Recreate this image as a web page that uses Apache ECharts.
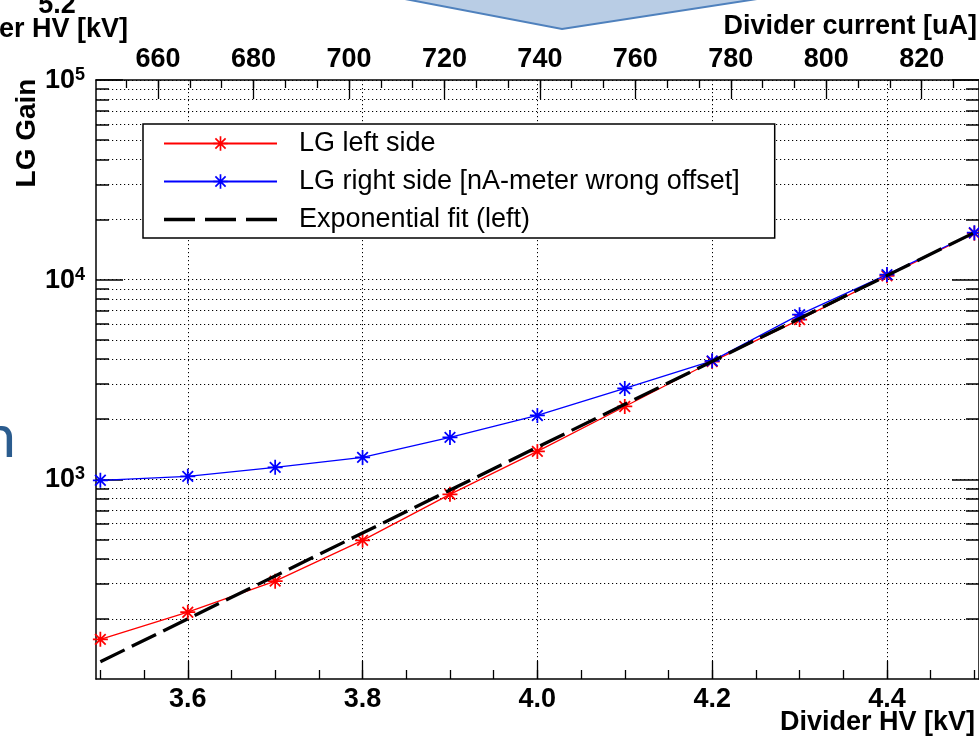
<!DOCTYPE html>
<html>
<head>
<meta charset="utf-8">
<script src="https://cdn.jsdelivr.net/npm/echarts@6/dist/echarts.min.js"></script>
<style>
  html, body { margin: 0; padding: 0; background: #ffffff; overflow: hidden; }
  #chart { width: 979px; height: 740px; }
</style>
</head>
<body>
<div id="chart"></div>
<script>
// Divider high voltage [kV] of each measurement
const hv = [3.5, 3.6, 3.7, 3.8, 3.9, 4.0, 4.1, 4.2, 4.3, 4.4, 4.5];
// LG gain, left side
const gainLeft = [158, 216, 309, 495, 841, 1380, 2317, 3890, 6310, 10450, 17100];
// LG gain, right side (nA-meter with wrong offset)
const gainRight = [989, 1035, 1148, 1288, 1622, 2089, 2851, 3920, 6680, 10600, 17180];
// Exponential fit of the left side: end points of the fitted curve
const fitHv = [3.5, 4.5];
const fitGain = [122, 17200];

// Axis ticks
const hvTicks = [3.6, 3.8, 4.0, 4.2, 4.4];
const currentTicks = [660, 680, 700, 720, 740, 760, 780, 800, 820];
const gainTicks = [1000, 10000, 100000];

// Axis ranges
const hvRange = [3.495, 4.5053];
const currentRange = [647.0, 832.0];
const gainRange = [100, 100000];

// Minor tick positions
const hvMinor = [];
for (let i = 0; i <= 20; i++) hvMinor.push(+(3.5 + i * 0.05).toFixed(2));
const currentMinor = [];
for (let i = -2; i <= 26; i++) currentMinor.push(660 + i * 20 / 3);
const gainMinor = [];
[100, 1000, 10000].forEach(d => { for (let k = 2; k <= 9; k++) gainMinor.push(k * d); });

const FONT = 'Liberation Sans';
const AXIS_W = 1.5;
const gridDot = { color: '#000', width: 1, type: [1.2, 2.8] };

// ROOT-style asterisk marker (+ and x overlaid)
const star = 'path://M10.6,0H13.4V24H10.6Z M0,10.6H24V13.4H0Z ' +
  'M4.5,2.52L21.48,19.5L19.5,21.48L2.52,4.5Z M2.52,19.5L19.5,2.52L21.48,4.5L4.5,21.48Z';
// Long-dash legend icon for the fit
const dashIcon = 'path://M0,0H31V3.3H0Z M41,0H72V3.3H41Z M82,0H113V3.3H82Z';

const pairs = (xs, ys) => xs.map((x, i) => [x, ys[i]]);

const boldLabel = { fontFamily: FONT, fontWeight: 'bold', fontSize: 27, color: '#000' };
const boldText = 'bold 27px "Liberation Sans"';

const option = {
  backgroundColor: '#ffffff',
  animation: false,
  grid: { left: 96, right: -1, top: 80, bottom: 61, containLabel: false },
  legend: {
    orient: 'vertical',
    left: 143,
    top: 124,
    padding: [6, 35, 5, 20],
    itemGap: 11,
    itemWidth: 113,
    itemHeight: 18,
    borderColor: '#000',
    borderWidth: 1.5,
    borderRadius: 0,
    backgroundColor: '#ffffff',
    textStyle: { fontFamily: FONT, fontSize: 27, color: '#000', padding: [0, 0, 0, 17] },
    data: [
      { name: 'LG left side' },
      { name: 'LG right side [nA-meter wrong offset]' },
      { name: 'Exponential fit (left)', icon: dashIcon }
    ]
  },
  xAxis: [
    {
      type: 'value', position: 'bottom', min: hvRange[0], max: hvRange[1],
      axisLine: { show: true, onZero: false, lineStyle: { color: '#000', width: AXIS_W } },
      axisTick: { show: true, inside: true, length: 18, customValues: hvTicks, lineStyle: { color: '#000', width: 1.3 } },
      axisLabel: Object.assign({ customValues: hvTicks, margin: 7, formatter: v => v.toFixed(1) }, boldLabel),
      splitLine: { show: true, lineStyle: gridDot }
    },
    {
      type: 'value', position: 'bottom', min: hvRange[0], max: hvRange[1],
      axisLine: { show: false },
      axisTick: { show: true, inside: true, length: 9, customValues: hvMinor, lineStyle: { color: '#000', width: 1.3 } },
      axisLabel: { show: false },
      splitLine: { show: false }
    },
    {
      type: 'value', position: 'top', min: currentRange[0], max: currentRange[1],
      axisLine: { show: true, onZero: false, lineStyle: { color: '#000', width: AXIS_W } },
      axisTick: { show: true, inside: true, length: 19, customValues: currentTicks, lineStyle: { color: '#000', width: 1.3 } },
      axisLabel: Object.assign({ customValues: currentTicks, margin: 7, formatter: v => String(Math.round(v)) }, boldLabel),
      splitLine: { show: false }
    },
    {
      type: 'value', position: 'top', min: currentRange[0], max: currentRange[1],
      axisLine: { show: false },
      axisTick: { show: true, inside: true, length: 8, customValues: currentMinor, lineStyle: { color: '#000', width: 1.3 } },
      axisLabel: { show: false },
      splitLine: { show: false }
    }
  ],
  yAxis: [
    {
      type: 'log', logBase: 10, position: 'left', min: gainRange[0], max: gainRange[1],
      axisLine: { show: true, onZero: false, lineStyle: { color: '#000', width: AXIS_W } },
      axisTick: { show: true, inside: true, length: 27, customValues: gainTicks, lineStyle: { color: '#000', width: 1.5 } },
      axisLabel: {
        customValues: gainTicks, margin: 11,
        formatter: v => '{b|10}{s|' + Math.round(Math.log10(v)) + '}',
        rich: {
          b: { fontFamily: FONT, fontWeight: 'bold', fontSize: 27, lineHeight: 28, color: '#000', verticalAlign: 'bottom' },
          s: { fontFamily: FONT, fontWeight: 'bold', fontSize: 18, lineHeight: 18, color: '#000', verticalAlign: 'top' }
        }
      },
      splitLine: { show: true, lineStyle: gridDot }
    },
    {
      type: 'log', logBase: 10, position: 'left', min: gainRange[0], max: gainRange[1],
      axisLine: { show: false },
      axisTick: { show: true, inside: true, length: 13, customValues: gainMinor, lineStyle: { color: '#000', width: 1.5 } },
      axisLabel: { show: false },
      splitLine: { show: true, lineStyle: gridDot }
    },
    {
      type: 'log', logBase: 10, position: 'right', min: gainRange[0], max: gainRange[1],
      axisLine: { show: true, onZero: false, lineStyle: { color: '#000', width: AXIS_W } },
      axisTick: { show: true, inside: true, length: 27, customValues: gainTicks, lineStyle: { color: '#000', width: 1.5 } },
      axisLabel: { show: false },
      splitLine: { show: false }
    },
    {
      type: 'log', logBase: 10, position: 'right', min: gainRange[0], max: gainRange[1],
      axisLine: { show: false },
      axisTick: { show: true, inside: true, length: 13, customValues: gainMinor, lineStyle: { color: '#000', width: 1.5 } },
      axisLabel: { show: false },
      splitLine: { show: false }
    }
  ],
  series: [
    {
      name: 'LG left side', type: 'line', xAxisIndex: 0, yAxisIndex: 0,
      data: pairs(hv, gainLeft),
      symbol: star, symbolSize: 15, symbolKeepAspect: true,
      lineStyle: { color: '#ff0000', width: 1.3 },
      itemStyle: { color: '#ff0000' }, z: 3
    },
    {
      name: 'LG right side [nA-meter wrong offset]', type: 'line', xAxisIndex: 0, yAxisIndex: 0,
      data: pairs(hv, gainRight),
      symbol: star, symbolSize: 15, symbolKeepAspect: true,
      lineStyle: { color: '#0000ff', width: 1.3 },
      itemStyle: { color: '#0000ff' }, z: 4
    },
    {
      name: 'Exponential fit (left)', type: 'line', xAxisIndex: 0, yAxisIndex: 0,
      data: pairs(fitHv, fitGain),
      symbol: 'none',
      lineStyle: { color: '#000000', width: 3.3, type: [27, 8] },
      itemStyle: { color: '#000000' }, z: 5
    }
  ],
  graphic: [
    {
      type: 'polygon', z: 10,
      shape: { points: [[405, -1], [562, 29], [757, -1]] },
      style: { fill: '#b9cde5', stroke: '#4f81bd', lineWidth: 2 }
    },
    {
      type: 'text', x: 977, y: 27, z: 10,
      style: { text: 'Divider current [uA]', font: boldText, fill: '#000', align: 'right', verticalAlign: 'middle' }
    },
    {
      type: 'text', x: 975, y: 723, z: 10,
      style: { text: 'Divider HV [kV]', font: boldText, fill: '#000', align: 'right', verticalAlign: 'middle' }
    },
    {
      type: 'text', x: 27, y: 133, rotation: Math.PI / 2, z: 10,
      style: { text: 'LG Gain', font: 'bold 28px "Liberation Sans"', fill: '#000', align: 'center', verticalAlign: 'middle' }
    },
    {
      type: 'text', x: 57, y: 6, z: 10,
      style: { text: '5.2', font: boldText, fill: '#000', align: 'center', verticalAlign: 'middle' }
    },
    {
      type: 'text', x: 128, y: 30, z: 10,
      style: { text: 'Divider HV [kV]', font: boldText, fill: '#000', align: 'right', verticalAlign: 'middle' }
    },
    {
      type: 'text', x: 16, y: 438, z: 10,
      style: { text: 'n', font: '60px Lato', fill: '#2b5c8e', align: 'right', verticalAlign: 'middle' }
    }
  ]
};

const chart = echarts.init(document.getElementById('chart'), null, { renderer: 'canvas' });
chart.setOption(option);
</script>
</body>
</html>
